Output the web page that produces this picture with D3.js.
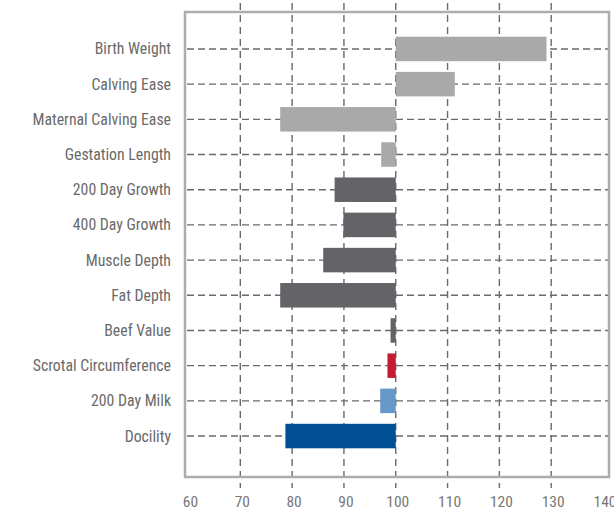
<!DOCTYPE html>
<html>
<head>
<meta charset="utf-8">
<script src="https://cdn.jsdelivr.net/npm/d3@7"></script>
<style>
  html, body { margin: 0; padding: 0; background: #fff; }
  svg { display: block; }
  text { font-family: 'Liberation Sans Narrow', 'Roboto Condensed', 'DejaVu Sans Condensed', sans-serif; }
</style>
</head>
<body>
<svg id="chart" width="614" height="510"></svg>
<script>
// ---- data ----
const categories = [
  "Birth Weight", "Calving Ease", "Maternal Calving Ease", "Gestation Length",
  "200 Day Growth", "400 Day Growth", "Muscle Depth", "Fat Depth",
  "Beef Value", "Scrotal Circumference", "200 Day Milk", "Docility"
];
const values = [129.1, 111.4, 77.7, 97.2, 88.2, 89.9, 86.0, 77.7, 99.0, 98.4, 97.0, 78.7];
const groups = [
  "calving", "calving", "calving", "calving",
  "growth", "growth", "carcass", "carcass",
  "carcass", "fertility", "milk", "temperament"
];
const baseline = 100;
const xTicks = [60, 70, 80, 90, 100, 110, 120, 130, 140];
const gridTicks = [70, 80, 90, 100, 110, 120, 130];

// ---- styles ----
const groupColor = {
  calving: "#a9a9a9",
  growth: "#636368",
  carcass: "#636368",
  fertility: "#c41d33",
  milk: "#6699c8",
  temperament: "#024f94"
};

const svg = d3.select("#chart");
const frame = { left: 185, right: 609, top: 12, bottom: 477 };

const x = d3.scaleLinear().domain([60, 140]).range([188.5, 603]);
const y = d3.scalePoint().domain(categories).range([frame.top, 473]).padding(1.05);
const barH = 24.5;

// vertical gridlines (extend beyond frame)
svg.append("g").selectAll("line").data(gridTicks).join("line")
  .attr("x1", d => x(d)).attr("x2", d => x(d))
  .attr("y1", 3).attr("y2", 488)
  .attr("stroke", "#6a6a6a").attr("stroke-width", 1.4)
  .attr("stroke-dasharray", "7,5");

// horizontal gridlines
svg.append("g").selectAll("line").data(categories).join("line")
  .attr("x1", frame.left + 2).attr("x2", frame.right)
  .attr("y1", d => y(d)).attr("y2", d => y(d))
  .attr("stroke", "#6a6a6a").attr("stroke-width", 1.4)
  .attr("stroke-dasharray", "7,4");

// frame
svg.append("rect")
  .attr("x", frame.left).attr("y", frame.top)
  .attr("width", frame.right - frame.left).attr("height", frame.bottom - frame.top)
  .attr("fill", "none").attr("stroke", "#adadad").attr("stroke-width", 2.5);

// bars
svg.append("g").selectAll("rect").data(categories).join("rect")
  .attr("x", (d, i) => Math.min(x(values[i]), x(baseline)))
  .attr("width", (d, i) => Math.abs(x(values[i]) - x(baseline)))
  .attr("y", d => y(d) - barH / 2)
  .attr("height", barH)
  .attr("fill", (d, i) => groupColor[groups[i]]);

// category labels
svg.append("g").selectAll("text").data(categories).join("text")
  .attr("x", 171).attr("y", d => y(d))
  .attr("dy", "0.35em")
  .attr("text-anchor", "end")
  .attr("font-size", 15.8)
  .attr("fill", "#6a6a6a")
  .text(d => d);

// x tick labels
svg.append("g").selectAll("text").data(xTicks).join("text")
  .attr("x", d => x(d) + 2).attr("y", 507)
  .attr("text-anchor", "middle")
  .attr("font-size", 15.5)
  .attr("fill", "#777")
  .text(d => d);
</script>
</body>
</html>
